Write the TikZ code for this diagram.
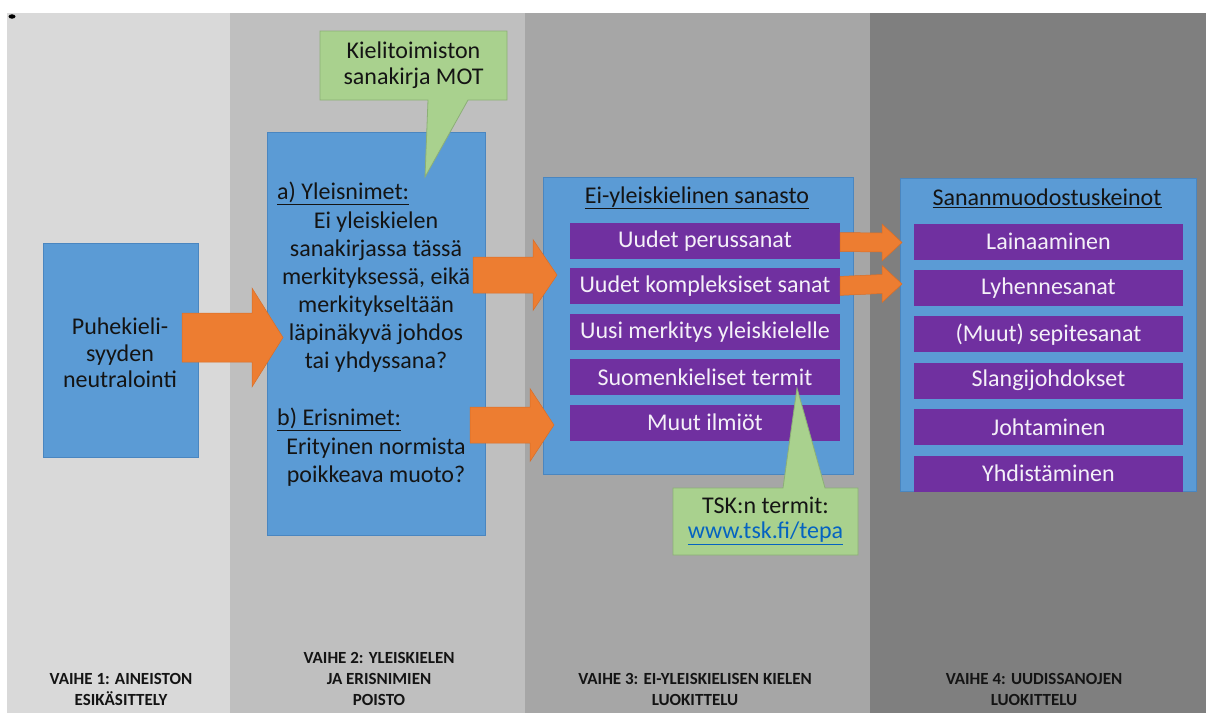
\documentclass[tikz,border=0pt]{standalone}
\usepackage{fontspec}
\setmainfont{Carlito}
\usepackage{tikz}
\usetikzlibrary{calc,positioning}
\definecolor{bandone}{HTML}{D9D9D9}
\definecolor{bandtwo}{HTML}{BFBFBF}
\definecolor{bandthree}{HTML}{A6A6A6}
\definecolor{bandfour}{HTML}{7F7F7F}
\definecolor{boxblue}{HTML}{5B9BD5}
\definecolor{boxedge}{HTML}{4A86C0}
\definecolor{itempurple}{HTML}{7030A0}
\definecolor{itemtext}{HTML}{F4F0F8}
\definecolor{calloutgreen}{HTML}{A9D18E}
\definecolor{calloutedge}{HTML}{8CAF77}
\definecolor{arroworange}{HTML}{ED7D31}
\definecolor{arrowedge}{HTML}{D86E28}
\definecolor{textdark}{HTML}{141414}
\definecolor{linkblue}{HTML}{0563C1}
\tikzset{
  bluebox/.style={fill=boxblue, draw=boxedge, line width=0.8pt, inner sep=0pt, anchor=north west},
  wordbox/.style={fill=itempurple, text=itemtext, minimum height=36pt, inner sep=0pt, font=\fontsize{24}{28}\selectfont},
  boxtext/.style={align=center, text=textdark, inner sep=0pt, font=\fontsize{24}{28}\selectfont},
  calloutshape/.style={fill=calloutgreen, draw=calloutedge, line width=0.8pt},
  bigarrow/.style={fill=arroworange, draw=arrowedge, line width=0.5pt},
  phaselabel/.style={align=center, text=textdark, inner sep=0pt, font=\bfseries\fontsize{17}{21}\selectfont},
}

\begin{document}
\begin{tikzpicture}[x=1pt, y=-1pt]
                    \useasboundingbox (0,0) rectangle (1206,713);
                    \fill[white] (0,0) rectangle (1206,713);
                    % phase bands
                    \fill[bandone] (7,13) rectangle (230,713);
                    \fill[bandtwo] (230,13) rectangle (525,713);
                    \fill[bandthree] (525,13) rectangle (870,713);
                    \fill[bandfour] (870,13) rectangle (1206,713);
                    \fill[black] (12,16.5) ellipse (3.5 and 2.2);
                    % phase 1
                    \node[bluebox, minimum width=155pt, minimum height=214pt] (prep) at (43,243) {};
                    \node[boxtext, font=\fontsize{24}{26.5}\selectfont] (prepText) at (120,353) {Puhekieli-\\syyden\\neutralointi};
                    % phase 2
                    \node[bluebox, minimum width=218pt, minimum height=403pt] (removal) at (267,132) {};
                    % phase 3
                    \node[bluebox, minimum width=310pt, minimum height=297pt] (vocab) at (543,177) {};
                    \node[boxtext] (vocabTitle) at (697,198) {\underline{Ei-yleiskielinen sanasto}};
                    \node[wordbox, minimum width=270pt] (u1) at (705,241) {Uudet perussanat};
                    \node[wordbox, minimum width=270pt, below=9pt of u1] (u2) {Uudet kompleksiset sanat};
                    \node[wordbox, minimum width=270pt, below=9pt of u2] (u3) {Uusi merkitys yleiskielelle};
                    \node[wordbox, minimum width=270pt, below=9pt of u3] (u4) {Suomenkieliset termit};
                    \node[wordbox, minimum width=270pt, below=9pt of u4] (u5) {Muut ilmiöt};
                    % phase 4
                    \node[bluebox, minimum width=296pt, minimum height=313pt] (means) at (900,178) {};
                    \node[boxtext] (meansTitle) at (1047,198) {\underline{Sananmuodostuskeinot}};
                    \node[wordbox, minimum width=269pt] (l1) at (1048.5,241.5) {Lainaaminen};
                    \node[wordbox, minimum width=269pt, below=10pt of l1] (l2) {Lyhennesanat};
                    \node[wordbox, minimum width=269pt, below=10pt of l2] (l3) {(Muut) sepitesanat};
                    \node[wordbox, minimum width=269pt, below=10pt of l3] (l4) {Slangijohdokset};
                    \node[wordbox, minimum width=269pt, below=10pt of l4] (l5) {Johtaminen};
                    \node[wordbox, minimum width=269pt, below=10pt of l5] (l6) {Yhdistäminen};
                    % callouts
                    \coordinate (motTip) at (425,177);
                    \filldraw[calloutshape] (320,31) -- (507,31) -- (507,100) -- (468,100) -- (motTip) -- (428,100) -- (320,100) -- cycle;
                    \node[boxtext, font=\fontsize{24}{26}\selectfont] (motText) at (413.5,65.5) {Kielitoimiston\\sanakirja MOT};
                    \coordinate (tskTip) at (797,388);
                    \filldraw[calloutshape] (673,488) -- (783,488) -- (tskTip) -- (825,488) -- (858,488) -- (858,555) -- (673,555) -- cycle;
                    \node[boxtext, font=\fontsize{24}{25}\selectfont] (tskText) at (765.5,521) {TSK:n termit:\\\textcolor{linkblue}{\underline{www.tsk.fi/tepa}}};
                    % phase 2 texts
                    \node[boxtext, anchor=west] (headA) at (277,193) {\underline{a) Yleisnimet:}};
                    \node[boxtext] (bodyA) at (376,292) {Ei yleiskielen\\sanakirjassa tässä\\merkityksessä, eikä\\merkitykseltään\\läpinäkyvä johdos\\tai yhdyssana?};
                    \node[boxtext, anchor=west] (headB) at (277,419) {\underline{b) Erisnimet:}};
                    \node[boxtext] (bodyB) at (376,462) {Erityinen normista\\poikkeava muoto?};
                    % block arrows
                    \coordinate (a1from) at (182,337.5);
                    \coordinate (a1to) at (283,337.5);
                    \fill[bigarrow] ($(a1from)+(0,-24.5)$) -- ($(a1to)+(-31,-24.5)$) -- ($(a1to)+(-31,-49.5)$) -- (a1to)
                        -- ($(a1to)+(-31,49.5)$) -- ($(a1to)+(-31,24.5)$) -- ($(a1from)+(0,24.5)$) -- cycle;
                    \coordinate (a2from) at (473,275);
                    \coordinate (a2to) at (557,275);
                    \fill[bigarrow] ($(a2from)+(0,-18)$) -- ($(a2to)+(-24,-18)$) -- ($(a2to)+(-24,-35.5)$) -- (a2to)
                        -- ($(a2to)+(-24,35.5)$) -- ($(a2to)+(-24,18)$) -- ($(a2from)+(0,18)$) -- cycle;
                    \coordinate (a3from) at (470,425);
                    \coordinate (a3to) at (554,425);
                    \fill[bigarrow] ($(a3from)+(0,-18)$) -- ($(a3to)+(-24,-18)$) -- ($(a3to)+(-24,-36.5)$) -- (a3to)
                        -- ($(a3to)+(-24,36.5)$) -- ($(a3to)+(-24,18)$) -- ($(a3from)+(0,18)$) -- cycle;
                    \coordinate (a4to) at (902,242.5);
                    \fill[bigarrow] ($(u1.east)+(0,-8.5)$) -- ($(a4to)+(-20,-9.5)$) -- ($(a4to)+(-20,-18.5)$) -- (a4to)
                        -- ($(a4to)+(-20,18.5)$) -- ($(a4to)+(-20,9.5)$) -- ($(u1.east)+(0,10.5)$) -- cycle;
                    \coordinate (a5to) at (902,284);
                    \fill[bigarrow] ($(u2.east)+(0,-10)$) -- ($(a5to)+(-20,-9.5)$) -- ($(a5to)+(-20,-18.5)$) -- (a5to)
                        -- ($(a5to)+(-20,18.5)$) -- ($(a5to)+(-20,9.5)$) -- ($(u2.east)+(0,9)$) -- cycle;
                    % phase labels
                    \node[phaselabel] (p1) at (121,689) {VAIHE 1: AINEISTON\\ESIKÄSITTELY};
                    \node[phaselabel] (p2) at (379,679) {VAIHE 2: YLEISKIELEN\\JA ERISNIMIEN\\POISTO};
                    \node[phaselabel] (p3) at (695,689) {VAIHE 3: EI-YLEISKIELISEN KIELEN\\LUOKITTELU};
                    \node[phaselabel] (p4) at (1034,689) {VAIHE 4: UUDISSANOJEN\\LUOKITTELU};
                \end{tikzpicture}
\end{document}
